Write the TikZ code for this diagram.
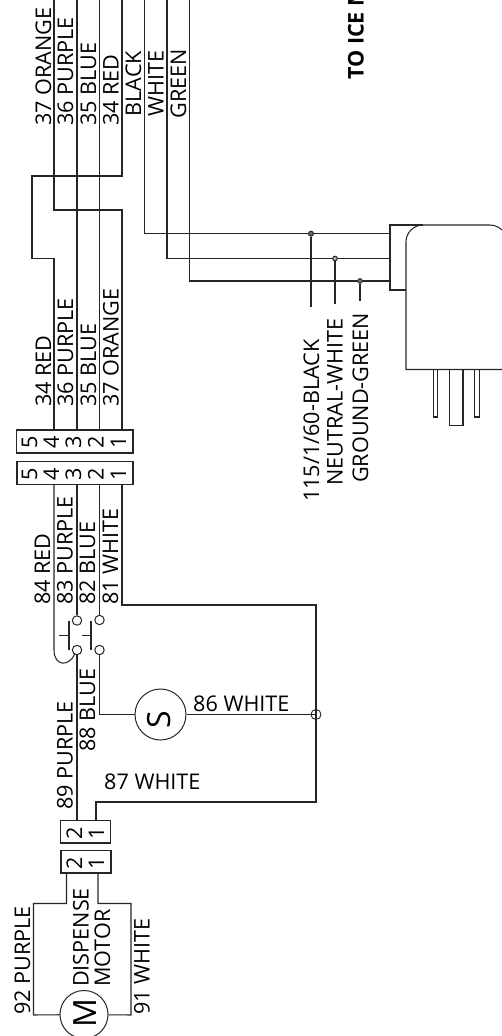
\documentclass[tikz,border=0pt]{standalone}
\usepackage{fontspec}
\setmainfont{Open Sans}
\tikzset{
 wire/.style={line width=1.05pt,draw=black!85,line cap=butt,line join=miter},
 lbl/.style={font=\fontsize{21.6}{21.6}\selectfont,inner sep=0pt,text=black},
 vlab/.style={lbl,rotate=90,anchor=base west},
 hlab/.style={lbl,anchor=base west},
 pinlab/.style={lbl,rotate=90,anchor=base},
 conn/.style={draw=black!85,line width=1.1pt,inner sep=0pt},
 term/.style={circle,draw=black!85,line width=1pt,fill=white,minimum size=9.4pt,inner sep=0pt},
 dot/.style={circle,draw=black!85,line width=1pt,fill=black!60,minimum size=5pt,inner sep=0pt},
 symb/.style={circle,draw=black!85,line width=1pt,inner sep=0pt},
 bigsym/.style={pinlab,font=\fontsize{32}{32}\selectfont},
}
\begin{document}
\begin{tikzpicture}[x=1pt,y=-1pt]
\useasboundingbox (0,0) rectangle (502,1036);
\clip (0,0) rectangle (502,1036);
% connectors
\node[conn,draw,minimum width=116.5pt,minimum height=23pt] (c5a) at (74.7,441.5) {};
\node[conn,draw,minimum width=116pt,minimum height=22.5pt] (c5b) at (75,473) {};
\node[conn,draw,minimum width=50pt,minimum height=22.5pt] (c2a) at (85.5,831.7) {};
\node[conn,draw,minimum width=50pt,minimum height=22.5pt] (c2b) at (86,861.7) {};
% coordinates
\coordinate (t4) at (54,430); \coordinate (t3) at (77,430); \coordinate (t2) at (99.5,430); \coordinate (t1) at (122,430);
\coordinate (b4) at (54,484); \coordinate (b3) at (77,484); \coordinate (b2) at (99.5,484); \coordinate (b1) at (122,484);
% top wires
\draw[wire] (54,0) -- (54,210) -- (122,210) -- (t1);
\draw[wire] (77,0) -- (t3);
\draw[wire] (99.5,0) -- (t2);
\draw[wire] (122,0) -- (122,176) -- (32,176) -- (32,258.5) -- (54,258.5) -- (t4);
% mains
\coordinate (pl1) at (390,233.7); \coordinate (pl2) at (390,258.5); \coordinate (pl3) at (390,281);
\draw[wire] (144.5,0) -- (144.5,233.7) -- (pl1);
\draw[wire] (167,0) -- (167,258.5) -- (pl2);
\draw[wire] (189.5,0) -- (189.5,281) -- (pl3);
\node[dot] (d1) at (311,233.7) {};
\node[dot,fill=black!30,minimum size=4.6pt] (d2) at (335,258.5) {};
\node[dot,fill=black!50,minimum size=4.6pt] (d3) at (360,281) {};
\coordinate (e1) at (311,306.5); \coordinate (e2) at (335,303.5); \coordinate (e3) at (360,300.5);
\draw[wire] (d1) -- (e1); \draw[wire] (d2) -- (e2); \draw[wire] (d3) -- (e3);
% plug
\draw[wire] (423,225) -- (390,225) -- (390,290) -- (406,290);
\draw[wire] (520,369.5) -- (406,369.5) -- (406,242) arc[start angle=180,end angle=90,radius=17pt] -- (490,225) arc[start angle=90,end angle=30,radius=17pt];
\draw[wire] (433.3,369.5) -- (433.3,417) -- (437.7,417) -- (437.7,369.5);
\draw[wire] (449.7,369.5) -- (449.7,425.7) -- (463,425.7) -- (463,369.5);
\draw[wire] (474.7,369.5) -- (474.7,417) -- (479.3,417) -- (479.3,369.5);
% switch
\draw[wire] (b4) -- (54,650) .. controls (54,667) and (70,667) .. (75,653);
\node[term] (s1) at (77,620.5) {};
\node[term] (s2) at (99.5,620) {};
\node[term] (s3) at (77,650) {};
\node[term] (s4) at (99.5,650) {};
\draw[wire] (b3) -- (s1);
\draw[wire] (b2) -- (s2);
\draw[wire] (69,621) -- (69,650) (59,635.5) -- (69,635.5);
\draw[wire] (91,621) -- (91,650) (82,635.5) -- (91,635.5);
% common
\node[symb,minimum size=51pt] (S) at (160.5,714.5) {};
\node[bigsym] at (170,719.5) {S};
\node[circle,draw=black!85,line width=0.9pt,minimum size=10pt,inner sep=0pt] (J) at (316,714.5) {};
\draw[wire] (b1) -- (122,605) -- (316,605) -- (316,802) -- (96,802) -- (96,820.5);
\draw[wire] (S) -- (J.center);
\draw[wire] (s4) -- (99.5,714.5) -- (S);
\draw[wire] (s3) -- (77,820.5);
% motor
\node[symb,minimum size=48pt] (M) at (84,1014.5) {};
\node[bigsym] at (96,1013) {M};
\draw[wire] (66.5,873) -- (66.5,903.5) -- (33.5,903.5) -- (33.5,1015) -- (M);
\draw[wire] (98,873) -- (98,903.5) -- (131,903.5) -- (131,1015) -- (M);
% labels top
\node[vlab] at (51,126) {37 ORANGE};
\node[vlab] at (73,126) {36 PURPLE};
\node[vlab] at (96,126) {35 BLUE};
\node[vlab] at (118.5,126) {34 RED};
\node[vlab] at (141,116.5) {BLACK};
\node[vlab] at (163.5,117) {WHITE};
\node[vlab] at (186,118.5) {GREEN};
\node[vlab,font=\fontsize{21.6}{21.6}\selectfont\bfseries] at (363.5,80) {TO ICE M};
% labels mid
\node[vlab] at (51,407) {34 RED};
\node[vlab] at (73,407) {36 PURPLE};
\node[vlab] at (96,407) {35 BLUE};
\node[vlab] at (118.5,407) {37 ORANGE};
\node[vlab] at (50,605) {84 RED};
\node[vlab] at (72.5,605) {83 PURPLE};
\node[vlab] at (95,605) {82 BLUE};
\node[vlab] at (118,605) {81 WHITE};
\node[vlab] at (95,752) {88 BLUE};
\node[vlab] at (72.5,810) {89 PURPLE};
\node[hlab] at (193,711.7) {86 WHITE};
\node[hlab] at (104,789) {87 WHITE};
\node[vlab] at (30,1015) {92 PURPLE};
\node[vlab] at (88.5,987) {DISPENSE};
\node[vlab] at (110,987) {MOTOR};
\node[vlab] at (149.5,1015) {91 WHITE};
\node[vlab] at (319,502) {115/1/60-BLACK};
\node[vlab] at (342.7,486) {NEUTRAL-WHITE};
\node[vlab] at (368,483) {GROUND-GREEN};
% pins
\foreach \n/\x in {5/37,4/59,3/81,2/103.5,1/126}{
 \node[pinlab] at (\x,442) {\n};
 \node[pinlab] at (\x,474) {\n};
}
\foreach \n/\x in {2/82,1/104}{
 \node[pinlab] at (\x,833) {\n};
 \node[pinlab] at (\x,863) {\n};
}
\end{tikzpicture}
\end{document}
